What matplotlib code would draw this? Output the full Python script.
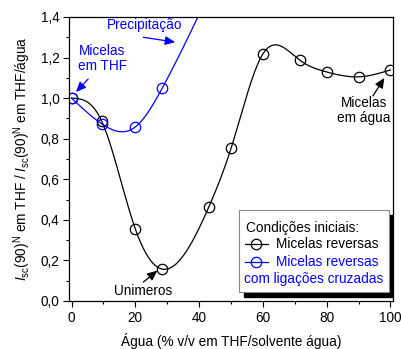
import numpy as np
import matplotlib
matplotlib.use('Agg')
import matplotlib.pyplot as plt
from matplotlib.patches import Rectangle
from matplotlib.lines import Line2D

plt.rcParams['font.family'] = ['Liberation Sans', 'DejaVu Sans']
plt.rcParams['mathtext.fontset'] = 'custom'
plt.rcParams['mathtext.rm'] = 'Liberation Sans'
plt.rcParams['mathtext.it'] = 'Liberation Sans:italic'
plt.rcParams['font.size'] = 9.8

# micelas reversas (preto)
agua_rev = [0, 9.5, 20, 28.5, 43, 50, 60, 71.5, 80, 90, 100]
int_rev = [1.0, 0.885, 0.355, 0.157, 0.462, 0.752, 1.218, 1.188, 1.129, 1.105, 1.139]

# micelas reversas com ligacoes cruzadas (azul); ultimo ponto fora da escala
agua_cruz = [0, 9.5, 20, 28.5, 45]
int_cruz = [1.0, 0.873, 0.858, 1.051, 1.58]

xticks = [0, 20, 40, 60, 80, 100]
yticks = [0.0, 0.2, 0.4, 0.6, 0.8, 1.0, 1.2, 1.4]
ytick_labels = ['0,0', '0,2', '0,4', '0,6', '0,8', '1,0', '1,2', '1,4']


def spline(x, y, xs):
    # spline cubica natural
    x = np.asarray(x, float)
    y = np.asarray(y, float)
    n = len(x)
    h = np.diff(x)
    A = np.zeros((n, n))
    b = np.zeros(n)
    A[0, 0] = 1
    A[-1, -1] = 1
    for i in range(1, n - 1):
        A[i, i - 1] = h[i - 1]
        A[i, i] = 2 * (h[i - 1] + h[i])
        A[i, i + 1] = h[i]
        b[i] = 6 * ((y[i + 1] - y[i]) / h[i] - (y[i] - y[i - 1]) / h[i - 1])
    M = np.linalg.solve(A, b)
    idx = np.clip(np.searchsorted(x, xs) - 1, 0, n - 2)
    x0, x1 = x[idx], x[idx + 1]
    hh = x1 - x0
    a = (x1 - xs) / hh
    c = (xs - x0) / hh
    return (a * y[idx] + c * y[idx + 1]
            + ((a ** 3 - a) * M[idx] + (c ** 3 - c) * M[idx + 1]) * hh ** 2 / 6)


fig = plt.figure(figsize=(4.02, 3.49), dpi=100)
ax = fig.add_axes([69 / 402, 1 - 301 / 349, 324 / 402, 284 / 349])

xs = np.linspace(agua_rev[0], agua_rev[-1], 400)
ax.plot(xs, spline(agua_rev, int_rev, xs), color='black', lw=0.9)
ax.plot(agua_rev, int_rev, 'o', mfc='none', mec='black', ms=7.5, mew=0.9)

xs2 = np.linspace(agua_cruz[0], agua_cruz[-1], 300)
ax.plot(xs2, spline(agua_cruz, int_cruz, xs2), color='blue', lw=0.9)
ax.plot(agua_cruz, int_cruz, 'o', mfc='none', mec='blue', ms=7.5, mew=0.9)

ax.set_xlim(-0.8, 100.8)
ax.set_ylim(0, 1.4)
ax.set_xticks(xticks)
ax.set_xticks([10, 30, 50, 70, 90], minor=True)
ax.set_yticks(yticks)
ax.set_yticklabels(ytick_labels)
ax.set_yticks(np.arange(0.1, 1.4, 0.2), minor=True)
ax.tick_params(direction='out', length=4.5, width=0.8, pad=2.5)
ax.tick_params(which='minor', direction='out', length=2.5, width=0.8)
for s in ax.spines.values():
    s.set_linewidth(0.9)

ax.set_xlabel('Água (% v/v em THF/solvente água)', labelpad=6)
ax.set_ylabel(r'$\mathit{I}_{\mathrm{sc}}(90)^{\mathrm{N}}$ em THF / '
              r'$\mathit{I}_{\mathrm{sc}}(90)^{\mathrm{N}}$ em THF/água', labelpad=5)

arrow = dict(arrowstyle='-|>,head_length=0.5,head_width=0.22', lw=0.9,
             mutation_scale=12, shrinkA=0, shrinkB=0)
ax.text(23, 1.36, 'Precipitação', color='blue', ha='center', va='center')
ax.annotate('', xy=(32.5, 1.276), xytext=(22.5, 1.30),
            arrowprops=dict(arrow, color='blue'))
ax.text(9.7, 1.195, 'Micelas\nem THF', color='blue', ha='center', va='center',
        linespacing=1.05)
ax.annotate('', xy=(1.4, 1.03), xytext=(5.2, 1.094),
            arrowprops=dict(arrow, color='blue'))
ax.text(91.6, 0.94, 'Micelas\nem água', color='black', ha='center', va='center',
        linespacing=1.05)
ax.annotate('', xy=(98.1, 1.10), xytext=(94.5, 1.011),
            arrowprops=dict(arrow, color='black'))
ax.text(22.3, 0.05, 'Unimeros', ha='center', va='center')
ax.annotate('', xy=(26.9, 0.15), xytext=(22.5, 0.093),
            arrowprops=dict(arrow, color='black'))

# legenda com sombra
bx0, bx1 = (239 - 69) / 324, (389 - 69) / 324
by0, by1 = (301 - 292) / 284, (301 - 210) / 284
dx, dy = 5 / 324, 5 / 284
ax.add_patch(Rectangle((bx0 + dx, by0 - dy), bx1 - bx0, by1 - by0,
                       transform=ax.transAxes, fc='black', ec='black', zorder=5))
ax.add_patch(Rectangle((bx0, by0), bx1 - bx0, by1 - by0, transform=ax.transAxes,
                       fc='white', ec='#888888', lw=0.8, zorder=6))


def px(x, y):
    return ((x - 69) / 324, (301 - y) / 284)


ax.text(*px(246, 228), 'Condições iniciais:', transform=ax.transAxes,
        va='center', ha='left', zorder=7)
for yy, col in [(244, 'black'), (262, 'blue')]:
    p0, p1, pc = px(245, yy), px(268, yy), px(256.5, yy)
    ax.add_line(Line2D([p0[0], p1[0]], [p0[1], p1[1]], transform=ax.transAxes,
                       color=col, lw=0.9, zorder=7))
    ax.add_line(Line2D([pc[0]], [pc[1]], transform=ax.transAxes, marker='o',
                       mfc='none', mec=col, ms=7.5, mew=0.9, zorder=7))
ax.text(*px(276, 244), 'Micelas reversas', transform=ax.transAxes,
        va='center', ha='left', zorder=7)
ax.text(*px(276, 262), 'Micelas reversas', transform=ax.transAxes,
        va='center', ha='left', color='blue', zorder=7)
ax.text(*px(244, 279), 'com ligações cruzadas', transform=ax.transAxes,
        va='center', ha='left', color='blue', zorder=7)

fig.savefig('out.png', dpi=100)
